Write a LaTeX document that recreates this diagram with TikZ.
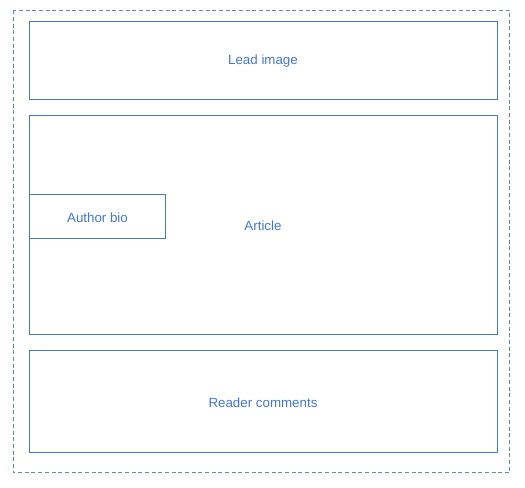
\documentclass[tikz,border=0pt]{standalone}
\usepackage{fontspec}
\setmainfont{Liberation Sans}
\definecolor{pageblue}{RGB}{66,118,218}
\definecolor{frameteal}{RGB}{90,148,148}
\tikzset{every picture/.style={line width=0.75pt}}
\tikzset{
  panel/.style={draw=pageblue},
  label/.style={text=pageblue,inner sep=0.75pt,font=\fontsize{10}{12}\selectfont}
}

\begin{document}
\begin{tikzpicture}[x=0.75pt,y=0.75pt,yscale=-1,xscale=1]
\useasboundingbox (0,0) rectangle (525,488); %set diagram left start at 0, and has height of 488

%Page frame
\draw [color=frameteal, dash pattern=on 3pt off 2pt] (13.5,10.5) rectangle (509.5,472.5) ;

%Lead image
\draw [panel] (29,22) rectangle (497,99.5) ;
%Article
\draw [panel] (29,115.5) rectangle (497,334.5) ;
%Author bio
\draw [panel] (29,194.5) rectangle (165.5,239) ;
%Reader comments
\draw [panel] (29,350.5) rectangle (497,452.5) ;

% Text Node
\node [label] (leadtext) at (263,61.5) {Lead image};
\node [label] (articletext) at (263,225.5) {Article};
\node [label] (biotext) at (97.5,217.5) {Author bio};
\node [label] (commentstext) at (263,402.5) {Reader comments};

\end{tikzpicture}
\end{document}
